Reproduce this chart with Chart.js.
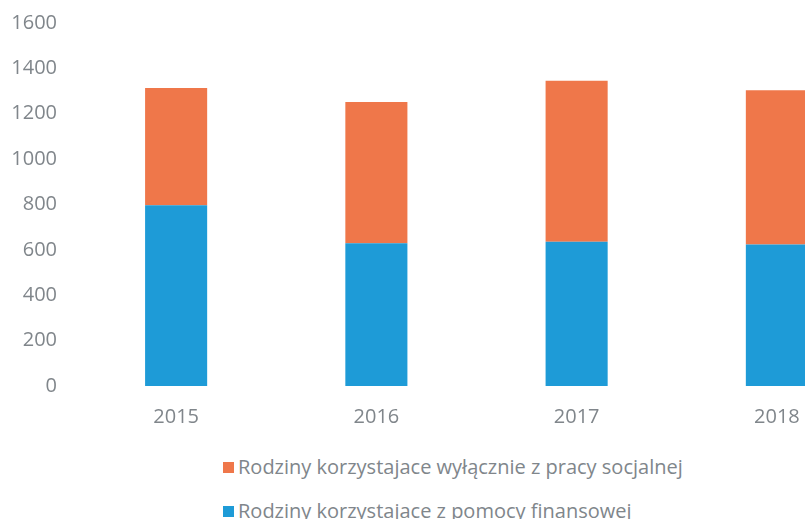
<!DOCTYPE html>
<html>
<head>
<meta charset="utf-8">
<script src="https://cdn.jsdelivr.net/npm/chart.js@4.4.0/dist/chart.umd.min.js"></script>
<style>
  html, body { margin: 0; padding: 0; background: #fff; }
  #wrap { position: relative; width: 805px; height: 519px; overflow: hidden; }
  #c { position: absolute; left: 0; top: -8px; }
  #legend { position: absolute; left: 223px; top: 453px; font-family: "Open Sans", sans-serif; font-size: 20px; color: #80868b; }
  .item { height: 44px; display: flex; align-items: flex-start; white-space: nowrap; }
  .box { width: 11px; height: 11px; margin: 9px 4px 0 0; }
</style>
</head>
<body>
<div id="wrap">
  <canvas id="c" width="880" height="447"></canvas>
  <div id="legend"></div>
</div>
<script>
var years = ['2015', '2016', '2017', '2018'];
var finansowa = [797, 629, 636, 624];   // Rodziny korzystajace z pomocy finansowej
var socjalna = [516, 623, 709, 680];    // Rodziny korzystajace wyłącznie z pracy socjalnej
var yTicks = [0, 200, 400, 600, 800, 1000, 1200, 1400, 1600];

var grey = '#80868b';
var font = { family: '"Open Sans", sans-serif', size: 20 };

var chartdata = {
  labels: years,
  datasets: [
    {
      label: 'Rodziny korzystajace z pomocy finansowej',
      backgroundColor: '#1e9bd7',
      data: finansowa
    },
    {
      label: 'Rodziny korzystajace wyłącznie z pracy socjalnej',
      backgroundColor: '#ef774a',
      data: socjalna
    }
  ]
};

var ctx = document.getElementById('c').getContext('2d');
var chart = new Chart(ctx, {
  type: 'bar',
  data: chartdata,
  options: {
    responsive: false,
    animation: false,
    layout: { padding: { top: 14, right: 3, bottom: 0, left: 0 } },
    datasets: { bar: { categoryPercentage: 1, barPercentage: 0.31 } },
    plugins: {
      legend: { display: false },
      tooltip: { enabled: false }
    },
    scales: {
      x: {
        stacked: true,
        grid: { display: false, drawTicks: false },
        border: { display: false },
        ticks: { color: grey, font: font, padding: 19 },
        afterFit: function(s) { s.height = 53; }
      },
      y: {
        stacked: true,
        min: yTicks[0],
        max: yTicks[yTicks.length - 1],
        afterBuildTicks: function(s) { s.ticks = yTicks.map(function(v) { return { value: v }; }); },
        grid: { display: false, drawTicks: false },
        border: { display: false },
        ticks: {
          color: grey, font: font, padding: 19,
          callback: function(v) { return String(v); }
        },
        afterFit: function(s) { s.width = 76; }
      }
    }
  }
});

// legend, Excel order (top series first)
var leg = document.getElementById('legend');
chartdata.datasets.slice().reverse().forEach(function(ds) {
  var row = document.createElement('div');
  row.className = 'item';
  var box = document.createElement('span');
  box.className = 'box';
  box.style.background = ds.backgroundColor;
  var txt = document.createElement('span');
  txt.textContent = ds.label;
  row.appendChild(box);
  row.appendChild(txt);
  leg.appendChild(row);
});
</script>
</body>
</html>
